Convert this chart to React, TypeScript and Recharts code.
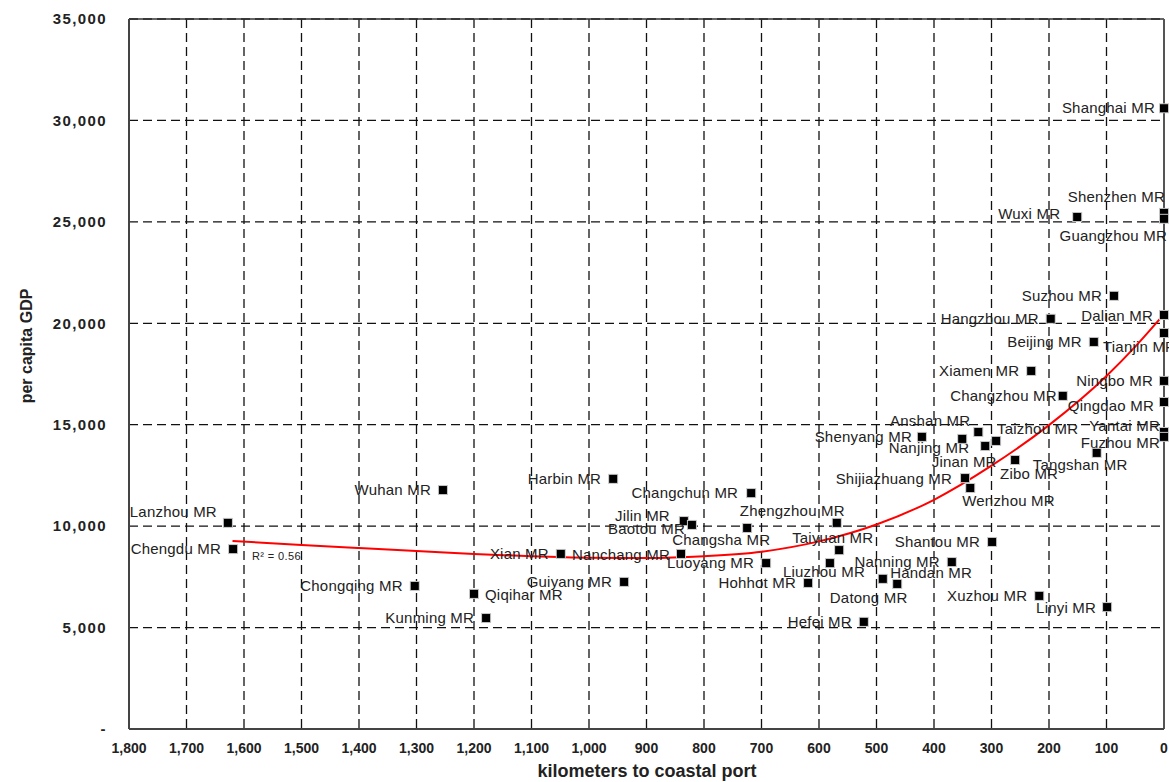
import {
  CartesianGrid,
  ComposedChart,
  Line,
  ReferenceDot,
  ReferenceLine,
  Scatter,
  XAxis,
  YAxis,
} from 'recharts'

const cityNames = [
  'Shanghai MR', 'Shenzhen MR', 'Guangzhou MR', 'Wuxi MR', 'Suzhou MR',
  'Hangzhou MR', 'Dalian MR', 'Tianjin MR', 'Beijing MR', 'Xiamen MR',
  'Ningbo MR', 'Changzhou MR', 'Qingdao MR', 'Yantai MR', 'Fuzhou MR',
  'Tangshan MR', 'Taizhou MR', 'Anshan MR', 'Shenyang MR', 'Nanjing MR',
  'Jinan MR', 'Zibo MR', 'Shijiazhuang MR', 'Wenzhou MR', 'Shantou MR',
  'Nanning MR', 'Handan MR', 'Datong MR', 'Xuzhou MR', 'Linyi MR',
  'Hefei MR', 'Liuzhou MR', 'Taiyuan MR', 'Zhengzhou MR', 'Hohhot MR',
  'Luoyang MR', 'Changsha MR', 'Changchun MR', 'Jilin MR', 'Baotou MR',
  'Nanchang MR', 'Xian MR', 'Harbin MR', 'Guiyang MR', 'Qiqihar MR',
  'Kunming MR', 'Chongqing MR', 'Wuhan MR', 'Lanzhou MR', 'Chengdu MR',
]

const cityKm = [
  0, 0, 0, 151, 87,
  197, 0, 0, 122, 231,
  0, 176, 0, 0, 0,
  117, 292, 323, 421, 311,
  351, 259, 346, 337, 299,
  369, 464, 489, 217, 99,
  522, 581, 565, 569, 619,
  692, 725, 718, 835, 821,
  840, 1049, 958, 939, 1200,
  1179, 1303, 1254, 1628, 1619,
]

const cityGdp = [
  30600, 25440, 25150, 25240, 21350,
  20220, 20410, 19520, 19080, 17650,
  17160, 16420, 16120, 14640, 14400,
  13610, 14200, 14640, 14400, 13950,
  14300, 13260, 12370, 11880, 9220,
  8230, 7150, 7400, 6560, 6010,
  5280, 8180, 8820, 10160, 7200,
  8180, 9910, 11630, 10250, 10060,
  8630, 8630, 12330, 7250, 6660,
  5470, 7050, 11780, 10160, 8870,
]

// points
const trendKm = [1620, 1500, 1400, 1300, 1200, 1100, 1000, 900, 800, 700, 600, 500, 400, 300, 200, 100, 50, 0]
const trendGdp = [9270, 9070, 8920, 8780, 8630, 8510, 8440, 8430, 8520, 8740, 9250, 10080, 11300, 12980, 14980, 17400, 18850, 20450]

const kmTicks = [0, 100, 200, 300, 400, 500, 600, 700, 800, 900, 1000, 1100, 1200, 1300, 1400, 1500, 1600, 1700, 1800]
const gdpTicks = [0, 5000, 10000, 15000, 20000, 25000, 30000, 35000]

const cities = cityNames.map((name, i) => ({ name, km: cityKm[i], gdp: cityGdp[i] }))
const trend = trendKm.map((km, i) => ({ km, gdp: trendGdp[i] }))

type Anchor = 'start' | 'middle' | 'end'

// label offsets from the marker centre: [dx, dy, anchor]
const defaultPlacement: [number, number, Anchor] = [-12, 5, 'end']
const labelPlacement: Record<string, [number, number, Anchor]> = {
  'Shanghai MR': [-9, 5, 'end'],
  'Shenzhen MR': [1, -11, 'end'],
  'Guangzhou MR': [3, 22, 'end'],
  'Wuxi MR': [-17, 2, 'end'],
  'Dalian MR': [-11, 6, 'end'],
  'Tianjin MR': [-61, 19, 'start'],
  'Ningbo MR': [-11, 5, 'end'],
  'Qingdao MR': [-10, 9, 'end'],
  'Yantai MR': [-4, -1, 'end'],
  'Fuzhou MR': [-4, 11, 'end'],
  'Tangshan MR': [-64, 17, 'start'],
  'Taizhou MR': [1, -7, 'start'],
  'Anshan MR': [-8, -6, 'end'],
  'Shenyang MR': [-10, 5, 'end'],
  'Nanjing MR': [-16, 7, 'end'],
  'Jinan MR': [2, 28, 'middle'],
  'Zibo MR': [-15, 19, 'start'],
  'Shijiazhuang MR': [-13, 6, 'end'],
  'Wenzhou MR': [-8, 18, 'start'],
  'Handan MR': [-7, -6, 'start'],
  'Datong MR': [-53, 24, 'start'],
  'Linyi MR': [-11, 6, 'end'],
  'Liuzhou MR': [-47, 14, 'start'],
  'Taiyuan MR': [-47, -7, 'start'],
  'Zhengzhou MR': [-97, -7, 'start'],
  'Changsha MR': [-75, 17, 'start'],
  'Changchun MR': [-13, 5, 'end'],
  'Jilin MR': [-14, 0, 'end'],
  'Baotou MR': [-7, 9, 'end'],
  'Nanchang MR': [-11, 6, 'end'],
  'Qiqihar MR': [11, 6, 'start'],
  'Lanzhou MR': [-11, -6, 'end'],
  'Changzhou MR': [-6, 5, 'end'],
}

const font = '"Liberation Sans", Arial, sans-serif'

const CityMarker = (props: any) => {
  const { cx, cy, payload } = props
  const [dx, dy, anchor] = labelPlacement[payload.name] ?? defaultPlacement
  return (
    <g>
      <rect x={cx - 5} y={cy - 5} width={10} height={10} fill="#c4c4c4" />
      <rect x={cx - 4} y={cy - 4} width={8} height={8} fill="#000" />
      <text
        x={cx + dx}
        y={cy + dy}
        textAnchor={anchor}
        fontFamily={font}
        fontSize={15}
        letterSpacing={0.2}
        fill="#222"
      >
        {payload.name}
      </text>
    </g>
  )
}

const fmt = (v: number) => (v === 0 ? '-' : v.toLocaleString('en-US'))

export default function App() {
  return (
    <div style={{ position: 'fixed', left: 0, top: 0, width: 1169, height: 782, background: '#fff' }}>
      <ComposedChart
        width={1169}
        height={782}
        margin={{ top: 19, right: 5, bottom: 3, left: 29 }}
      >
        <CartesianGrid stroke="#111" strokeWidth={1.3} strokeDasharray="9 5" />
        <XAxis
          type="number"
          dataKey="km"
          domain={[0, 1800]}
          ticks={kmTicks}
          reversed
          height={50}
          tickLine={false}
          tickMargin={8}
          axisLine={{ stroke: '#444', strokeWidth: 2 }}
          tickFormatter={(v: number) => v.toLocaleString('en-US')}
          tick={{ fontFamily: font, fontSize: 14, fontWeight: 700, fill: '#222' }}
          label={{
            content: () => (
              <text x={647} y={777} textAnchor="middle" fontFamily={font} fontSize={18} fontWeight={700} fill="#222">
                kilometers to coastal port
              </text>
            ),
          }}
        />
        <YAxis
          type="number"
          domain={[0, 35000]}
          ticks={gdpTicks}
          width={100}
          tickLine={false}
          tickMargin={16}
          axisLine={{ stroke: '#444', strokeWidth: 2 }}
          tickFormatter={fmt}
          tick={{ fontFamily: font, fontSize: 15, fontWeight: 700, fill: '#222', letterSpacing: 1.4 }}
          label={{
            content: () => (
              <text
                x={32}
                y={346}
                transform="rotate(-90 32 346)"
                textAnchor="middle"
                fontFamily={font}
                fontSize={16}
                fontWeight={700}
                fill="#222"
              >
                per capita GDP
              </text>
            ),
          }}
        />
        <ReferenceLine y={35000} stroke="#333" strokeWidth={1.5} />
        <ReferenceLine x={0} stroke="#555" strokeWidth={2} />
        <Line
          data={trend}
          dataKey="gdp"
          type="monotone"
          stroke="#ff0000"
          strokeWidth={2}
          dot={false}
          activeDot={false}
          isAnimationActive={false}
        />
        <Scatter data={cities} dataKey="gdp" shape={CityMarker} isAnimationActive={false} />
        <ReferenceDot
          x={1595}
          y={8530}
          r={0}
          label={{
            content: (p: any) => (
              <text x={p.viewBox.x + 5} y={p.viewBox.y + 4} fontFamily={font} fontSize={11} letterSpacing={0.4} fill="#222">
                R² = 0.56
              </text>
            ),
          }}
        />
      </ComposedChart>
    </div>
  )
}
